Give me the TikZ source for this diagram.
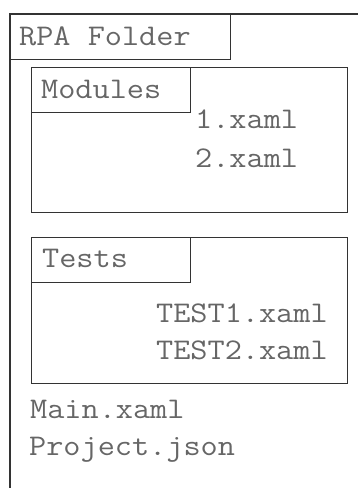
\documentclass[tikz,border=0pt]{standalone}
\usepackage{fontspec}
\setmonofont{Latin Modern Mono}[FakeStretch=1.11]
\definecolor{linecol}{HTML}{333333}
\definecolor{textcol}{HTML}{666666}
\begin{document}
\begin{tikzpicture}[x=1pt,y=-1pt,
  frame/.style={draw=linecol, line width=1.3pt, inner sep=0pt, anchor=north west},
  label/.style={font=\ttfamily\fontsize{30}{32}\selectfont, text=textcol, inner sep=0pt, anchor=base west}]
\useasboundingbox (0,0) rectangle (357,488);
% outer folder
\coordinate (obot) at (10,490);
\coordinate (oright) at (359,14);
\node[frame, minimum width=220pt, minimum height=45pt] (rpatab) at (10,14) {};
\draw[linecol, line width=1.3pt] (obot) |- (oright);
\node[label] (rpa) at (19,45) {RPA Folder};
% Modules
\node[frame, minimum width=316pt, minimum height=145pt] (modules) at (31,67) {};
\node[frame, minimum width=159pt, minimum height=45pt] (modtab) at (31,67) {};
\node[label] (modtxt) at (41,98) {Modules};
\node[label] (x1) at (195,128) {1.xaml};
\node[label] (x2) at (195,167) {2.xaml};
% Tests
\node[frame, minimum width=316pt, minimum height=146pt] (tests) at (31,237) {};
\node[frame, minimum width=159pt, minimum height=45pt] (testtab) at (31,237) {};
\node[label] (testtxt) at (42,267) {Tests};
\node[label] (t1) at (156,322) {TEST1.xaml};
\node[label] (t2) at (156,359) {TEST2.xaml};
% files
\node[label] (mainf) at (30,418) {Main.xaml};
\node[label] (proj) at (29,455) {Project.json};
\end{tikzpicture}
\end{document}
